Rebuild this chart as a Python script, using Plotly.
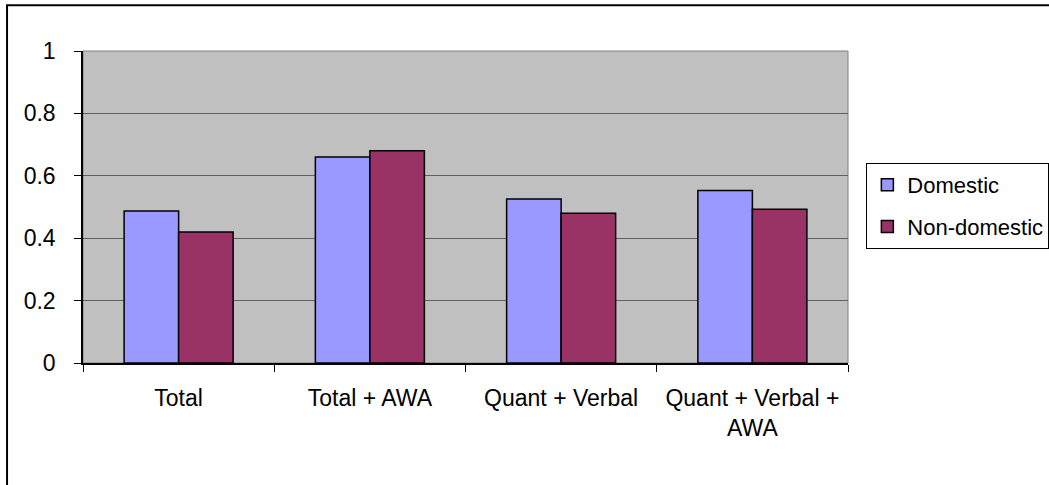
import plotly.graph_objects as go

categories = ["Total", "Total + AWA", "Quant + Verbal", "Quant + Verbal +<br>AWA"]
domestic = [0.487, 0.66, 0.526, 0.553]
non_domestic = [0.42, 0.68, 0.48, 0.493]
y_ticks = [0, 0.2, 0.4, 0.6, 0.8, 1]
y_labels = ["0", "0.2", "0.4", "0.6", "0.8", "1"]

FONT = "Liberation Sans, Arial"

fig = go.Figure()
fig.add_trace(go.Bar(x=categories, y=domestic, name="Domestic", legendgroup="d",
                     marker=dict(color="#9999FF", line=dict(color="black", width=1.5))))
fig.add_trace(go.Bar(x=categories, y=non_domestic, name="Non-domestic", legendgroup="n",
                     marker=dict(color="#993366", line=dict(color="black", width=1.5))))

fig.update_layout(
    width=1049, height=485,
    margin=dict(l=83, r=201, t=51, b=122, autoexpand=False),
    paper_bgcolor="white", plot_bgcolor="#C0C0C0",
    font=dict(family=FONT, size=23, color="black"),
    barmode="group", bargap=0.43, bargroupgap=0,
    legend=dict(x=1.024, y=0.641, xanchor="left", yanchor="top",
                bordercolor="black", borderwidth=1, bgcolor="white",
                font=dict(size=22), tracegroupgap=10, itemwidth=30),
    showlegend=True,
)
fig.update_xaxes(type="category", tickson="boundaries", ticks="outside", ticklen=7,
                 tickcolor="black", showline=True, linecolor="black", linewidth=1.5,
                 showgrid=False, tickangle=0, automargin=False, ticklabelstandoff=14)
fig.update_yaxes(range=[0, 1], tickvals=y_ticks, ticktext=y_labels, ticks="outside",
                 ticklen=7, tickcolor="black", showline=True, linecolor="black",
                 linewidth=1.5, showgrid=True, gridcolor="#606060", gridwidth=1,
                 zeroline=False, automargin=False, ticklabelstandoff=14)

# plot area frame and chart border
fig.add_shape(type="rect", xref="paper", yref="paper", x0=0, x1=1, y0=0, y1=1,
              line=dict(color="#808080", width=1), layer="below")
fig.add_shape(type="rect", xref="paper", yref="paper", x0=-0.0993, x1=1.4, y0=-0.5, y1=1.147,
              line=dict(color="black", width=2))

fig.write_html("out.html", config={"displayModeBar": False},
               post_script="document.body.style.margin='0';")
